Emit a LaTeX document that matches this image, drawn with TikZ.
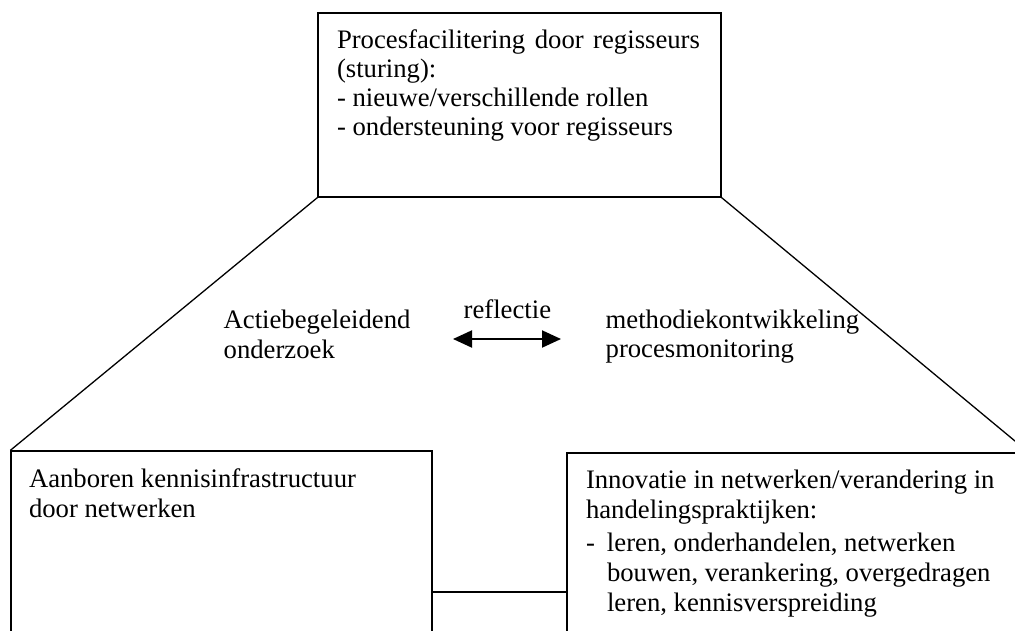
\documentclass[tikz,border=0pt]{standalone}
\usepackage{fontspec}
\setmainfont{Liberation Serif}
\usetikzlibrary{positioning, arrows.meta}

\tikzset{
    vak/.style={draw, line width=1.3pt, inner sep=0pt},
    tekst/.style={inner sep=0pt, align=left, font=\fontsize{26.7}{29}\selectfont},
}

\begin{document}
\begin{tikzpicture}[x=1pt, y=-1pt, line width=1.3pt]
    \useasboundingbox (0,0) rectangle (1015,630);

    \node[vak, minimum width=403pt, minimum height=184pt] (Regie)      at (519.5,105) {};
    \node[vak, minimum width=421pt, minimum height=282pt] (Kennis)     at (221.5,592) {};
    \node[vak, minimum width=461pt, minimum height=278pt] (Innovatie)  at (797.5,592) {};

    \node[tekst, below right=17pt and 19pt of Regie.north west]     (Regie tekst)
        {\makebox[363pt][s]{Procesfacilitering door regisseurs}\\(sturing):\\- nieuwe/verschillende rollen\\- ondersteuning voor regisseurs};
    \node[tekst, below right=18pt and 18pt of Kennis.north west, font=\fontsize{26.7}{30}\selectfont] (Kennis tekst)
        {Aanboren kennisinfrastructuur\\door netwerken};
    \node[tekst, below right=17pt and 19pt of Innovatie.north west, font=\fontsize{26.7}{30}\selectfont] (Innovatie tekst)
        {Innovatie in netwerken/verandering in\\handelingspraktijken:\\[3pt]
         \makebox[21pt][l]{-}leren, onderhandelen, netwerken\\
         \hspace*{21pt}bouwen, verankering, overgedragen\\
         \hspace*{21pt}leren, kennisverspreiding};

    \node[tekst, anchor=north west, font=\fontsize{26.7}{30}\selectfont] (Onderzoek) at (223,309) {Actiebegeleidend\\onderzoek};
    \node[tekst, anchor=north west, font=\fontsize{26.7}{29}\selectfont] (Methodiek) at (605,309) {methodiekontwikkeling\\procesmonitoring};
    \node[tekst, anchor=north west]                                 (Reflectie) at (463,299) {reflectie};

    \coordinate (Pijl links)  at (453,339);
    \coordinate (Pijl rechts) at (561,339);

    \draw (Regie.south west) -- (Kennis.north west);
    \draw (Regie.south east) -- (Innovatie.north east);
    \draw (Kennis) -- (Innovatie);
    \draw[line width=2pt, {Triangle[length=19pt, width=17pt]}-{Triangle[length=19pt, width=17pt]}]
        (Pijl links) -- (Pijl rechts);
\end{tikzpicture}
\end{document}
